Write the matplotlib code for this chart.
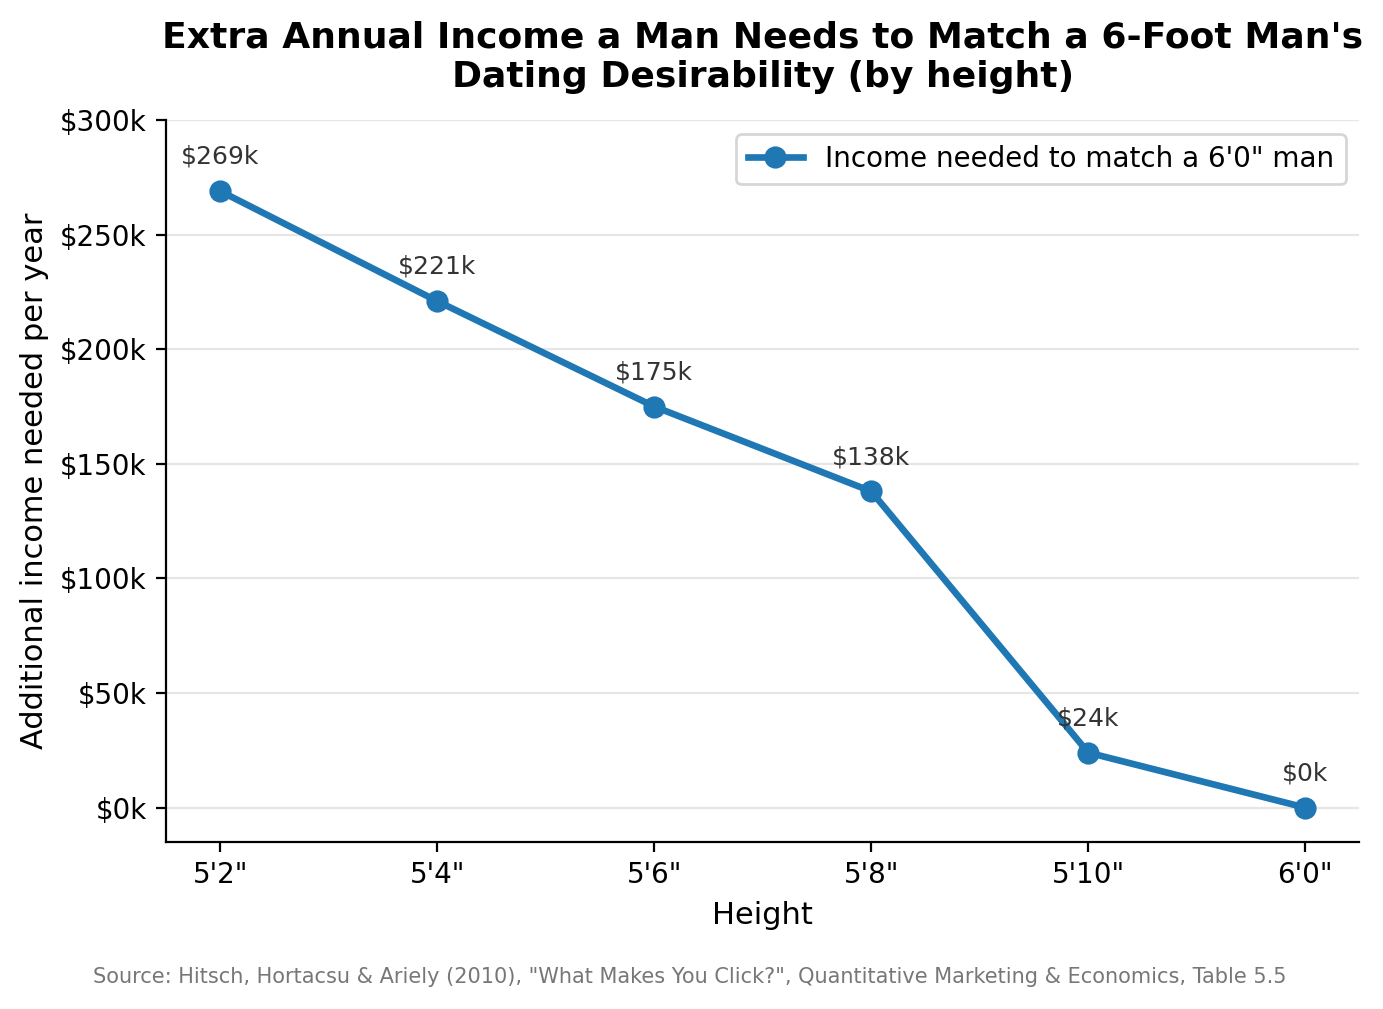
import matplotlib
matplotlib.use("Agg")
import matplotlib.pyplot as plt
from matplotlib.ticker import FuncFormatter

heights = ['5\'2"', '5\'4"', '5\'6"', '5\'8"', '5\'10"', '6\'0"']
income_k = [269, 221, 175, 138, 24, 0]

fig = plt.figure(figsize=(6.915, 5.045), dpi=200)
ax = fig.add_axes([0.12, 0.1655, 0.863, 0.7155])

x = list(range(len(heights)))
y = [v * 1000 for v in income_k]
ax.plot(x, y, color='#1f77b4', lw=2.4, marker='o', markersize=7,
        label='Income needed to match a 6\'0" man', zorder=3)

for xi, yi, v in zip(x, y, income_k):
    ax.annotate('$%dk' % v, (xi, yi), xytext=(0, 8), textcoords='offset points',
                ha='center', va='bottom', fontsize=9, color='#333333')

ax.set_xticks(x)
ax.set_xticklabels(heights)
ax.set_ylim(-15000, 300000)
ax.yaxis.set_major_formatter(FuncFormatter(lambda v, p: '$%dk' % (v / 1000)))
ax.tick_params(labelsize=10)
ax.grid(axis='y', color='#e6e6e6', lw=0.8)
ax.set_axisbelow(True)
ax.spines['top'].set_visible(False)
ax.spines['right'].set_visible(False)

ax.set_xlabel('Height', fontsize=11)
ax.set_ylabel('Additional income needed per year', fontsize=11)
ax.set_title("Extra Annual Income a Man Needs to Match a 6-Foot Man's\nDating Desirability (by height)",
             fontsize=13, fontweight='bold', pad=12)
ax.legend(loc='upper right', fontsize=10)

fig.text(0.499, 0.032, 'Source: Hitsch, Hortacsu & Ariely (2010), "What Makes You Click?", '
         'Quantitative Marketing & Economics, Table 5.5',
         ha='center', va='center', fontsize=7.5, color='#777777')

fig.savefig('out.png', dpi=200)
